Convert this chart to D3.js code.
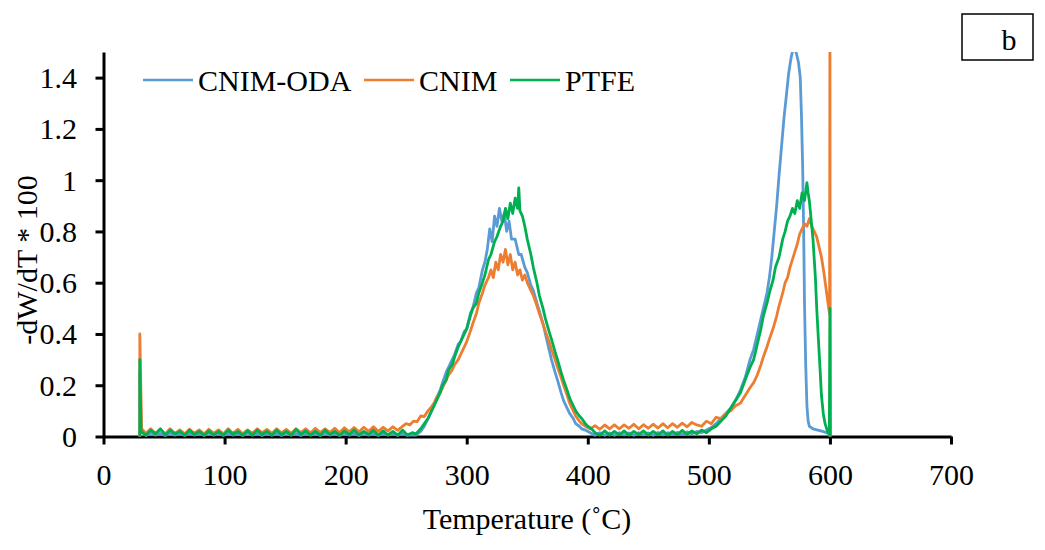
<!DOCTYPE html>
<html><head><meta charset="utf-8">
<script src="https://cdn.jsdelivr.net/npm/d3@7"></script>
</head><body style="margin:0">
<svg id="c" width="1045" height="550" font-family="Liberation Serif" style="font-family:'Liberation Serif'"></svg>
<script>
const seriesNames = ["CNIM-ODA", "CNIM", "PTFE"];
const seriesColors = ["#5B9BD5", "#ED7D31", "#00B050"];
const xTicks = [0, 100, 200, 300, 400, 500, 600, 700];
const yTicks = [0, 0.2, 0.4, 0.6, 0.8, 1, 1.2, 1.4];
const xTitle = "Temperature (˚C)";
const yTitle = "-dW/dT * 100";
const panelLabel = "b";

// [temperature °C, -dW/dT*100]
const cnimOda = [
[30,0],[30,0.25],[31,0.02],[35,0.004],[39,0.014],[43,0.005],[47,0.012],[51,0.004],[55,0.014],[59,0.005],[63,0.012],[67,0.004],[71,0.013],[75,0.005],[79,0.012],[83,0.004],[87,0.014],[91,0.005],[95,0.012],[99,0.004],[103,0.013],[107,0.005],[111,0.012],[115,0.004],[119,0.014],[123,0.005],[127,0.012],[131,0.004],[135,0.013],[139,0.005],[143,0.012],[147,0.004],[151,0.014],[155,0.005],[159,0.012],[163,0.004],[167,0.013],[171,0.005],[175,0.012],[179,0.004],[183,0.014],[187,0.005],[191,0.012],[195,0.004],[199,0.013],[203,0.005],[207,0.012],[211,0.004],[215,0.014],[219,0.005],[223,0.012],[227,0.004],[231,0.013],[235,0.005],[239,0.012],[243,0.004],[247,0.013],[251,0.004],[255,0.006],[258,0.005],
[262,0.02],[265,0.04],[268,0.07],[270,0.09],[273,0.12],[275,0.15],[278,0.18],[280,0.21],[283,0.25],[285,0.27],[288,0.30],[290,0.32],[293,0.36],[295,0.37],[298,0.41],[300,0.42],[303,0.48],[305,0.50],[308,0.56],[310,0.58],[313,0.65],[315,0.68],[317,0.73],[319,0.81],[321,0.76],[323,0.86],[325,0.82],[327,0.89],[329,0.84],[331,0.87],[333,0.80],[335,0.84],[337,0.77],[340,0.77],[343,0.71],[345,0.71],[348,0.66],[350,0.64],[353,0.59],[355,0.57],[358,0.52],[360,0.49],[363,0.44],[365,0.40],[368,0.34],[370,0.30],[373,0.25],[375,0.22],[378,0.17],[380,0.14],[383,0.11],[385,0.09],[388,0.07],[390,0.05],[393,0.04],[395,0.03],[398,0.025],[402,0.015],
[406,0.005],[410,0.015],[414,0.005],[418,0.014],[422,0.005],[426,0.015],[430,0.006],[434,0.014],[438,0.005],[442,0.015],[446,0.006],[450,0.014],[454,0.005],[458,0.016],[462,0.006],[466,0.015],[470,0.007],[474,0.016],[478,0.008],[482,0.018],[486,0.01],[490,0.02],[494,0.015],[498,0.025],
[502,0.035],[506,0.05],[510,0.07],[514,0.09],[518,0.11],[522,0.14],[526,0.18],[530,0.23],[534,0.30],[537,0.34],[540,0.40],[543,0.46],[545,0.50],[548,0.56],[550,0.62],[552,0.70],[554,0.80],[556,0.90],[558,1.02],[560,1.13],[562,1.24],[564,1.33],[566,1.42],[568,1.48],[570,1.52],[572,1.50],[574,1.46],[575.5,1.40],[576.5,1.25],[577.5,1.05],[578.3,0.80],[579,0.52],[580,0.28],[581,0.12],[582,0.06],[583,0.04],[586,0.03],[590,0.025],[594,0.02],[597,0.015],[599.5,0.01],[600,0]
];

const cnim = [
[30,0],[30,0.40],[30.8,0.20],[31.5,0.03],[35,0.012],[39,0.03],[43,0.012],[47,0.028],[51,0.01],[55,0.03],[59,0.012],[63,0.026],[67,0.01],[71,0.028],[75,0.012],[79,0.026],[83,0.01],[87,0.028],[91,0.012],[95,0.026],[99,0.01],[103,0.03],[107,0.012],[111,0.028],[115,0.01],[119,0.026],[123,0.012],[127,0.03],[131,0.014],[135,0.028],[139,0.012],[143,0.03],[147,0.014],[151,0.028],[155,0.012],[159,0.03],[163,0.015],[167,0.03],[171,0.014],[175,0.032],[179,0.015],[183,0.03],[187,0.016],[191,0.032],[195,0.015],[199,0.034],[203,0.018],[207,0.035],[211,0.018],[215,0.036],[219,0.02],[223,0.038],[227,0.02],[231,0.036],[235,0.022],[239,0.038],[243,0.024],[247,0.04],
[250,0.05],[253,0.045],[256,0.06],[259,0.058],[262,0.08],[265,0.078],[268,0.10],[270,0.11],[273,0.13],[275,0.15],[278,0.17],[280,0.19],[283,0.22],[285,0.24],[288,0.26],[290,0.28],[293,0.30],[295,0.32],[298,0.35],[300,0.37],[303,0.41],[305,0.44],[308,0.48],[310,0.52],[313,0.56],[315,0.59],[318,0.62],[320,0.65],[322,0.62],[324,0.68],[326,0.65],[328,0.71],[330,0.68],[332,0.73],[334,0.67],[336,0.71],[338,0.65],[340,0.68],[342,0.63],[344,0.65],[346,0.61],[348,0.63],[350,0.60],[353,0.57],[355,0.55],[358,0.51],[360,0.48],[363,0.44],[365,0.41],[368,0.37],[370,0.34],[373,0.30],[375,0.27],[378,0.23],[380,0.20],[383,0.16],[385,0.13],[388,0.10],[390,0.08],[393,0.06],[395,0.05],[398,0.04],[402,0.03],
[406,0.042],[410,0.028],[414,0.045],[418,0.03],[422,0.046],[426,0.03],[430,0.045],[434,0.032],[438,0.048],[442,0.03],[446,0.046],[450,0.032],[454,0.048],[458,0.033],[462,0.05],[466,0.034],[470,0.05],[474,0.036],[478,0.052],[482,0.038],[486,0.055],[490,0.045],[494,0.04],[498,0.06],
[502,0.05],[506,0.075],[510,0.07],[514,0.09],[518,0.10],[522,0.12],[526,0.13],[530,0.16],[534,0.19],[537,0.21],[540,0.24],[543,0.28],[545,0.31],[548,0.35],[550,0.38],[553,0.42],[556,0.47],[558,0.51],[561,0.56],[563,0.60],[565,0.62],[567,0.66],[569,0.69],[571,0.72],[573,0.75],[575,0.79],[577,0.81],[579,0.83],[581,0.82],[583,0.85],[585,0.82],[587,0.80],[589,0.78],[591,0.74],[593,0.70],[595,0.64],[597,0.57],[599,0.50],[599.7,0.48],[600,1.6],[600.3,0]
];

const ptfe = [
[30,0],[30,0.30],[31,0.02],[35,0.005],[39,0.025],[43,0.01],[47,0.03],[51,0.005],[55,0.025],[59,0.01],[63,0.02],[67,0.005],[71,0.025],[75,0.008],[79,0.02],[83,0.005],[87,0.022],[91,0.006],[95,0.02],[99,0.005],[103,0.025],[107,0.008],[111,0.02],[115,0.005],[119,0.022],[123,0.006],[127,0.025],[131,0.008],[135,0.02],[139,0.005],[143,0.025],[147,0.007],[151,0.02],[155,0.005],[159,0.028],[163,0.008],[167,0.022],[171,0.006],[175,0.02],[179,0.005],[183,0.025],[187,0.008],[191,0.02],[195,0.005],[199,0.022],[203,0.007],[207,0.025],[211,0.006],[215,0.02],[219,0.008],[223,0.025],[227,0.005],[231,0.022],[235,0.006],[239,0.02],[243,0.005],[247,0.025],[251,0.006],[255,0.015],[258,0.01],
[262,0.03],[265,0.05],[268,0.07],[270,0.09],[273,0.12],[275,0.14],[278,0.17],[280,0.20],[283,0.22],[285,0.26],[288,0.28],[290,0.31],[293,0.35],[295,0.37],[298,0.40],[300,0.42],[303,0.47],[305,0.50],[308,0.52],[310,0.56],[313,0.60],[315,0.63],[318,0.69],[320,0.71],[323,0.76],[325,0.78],[328,0.82],[330,0.84],[332,0.89],[334,0.85],[336,0.91],[338,0.87],[340,0.93],[342,0.89],[343,0.97],[344,0.88],[346,0.86],[348,0.82],[350,0.77],[353,0.71],[355,0.66],[358,0.60],[360,0.55],[363,0.50],[365,0.46],[368,0.41],[370,0.38],[373,0.33],[375,0.30],[378,0.25],[380,0.22],[383,0.18],[385,0.15],[388,0.12],[390,0.10],[393,0.08],[395,0.07],[398,0.05],[400,0.04],[403,0.03],[406,0.015],
[410,0.005],[414,0.022],[418,0.005],[422,0.02],[426,0.006],[430,0.022],[434,0.005],[438,0.02],[442,0.007],[446,0.022],[450,0.005],[454,0.02],[458,0.006],[462,0.022],[466,0.005],[470,0.02],[474,0.007],[478,0.024],[482,0.008],[486,0.022],[490,0.01],[494,0.025],[498,0.015],
[502,0.03],[506,0.04],[510,0.06],[514,0.08],[518,0.11],[522,0.14],[526,0.17],[530,0.22],[534,0.27],[537,0.30],[540,0.36],[543,0.42],[545,0.47],[548,0.52],[550,0.56],[553,0.61],[555,0.66],[558,0.70],[561,0.77],[563,0.80],[565,0.84],[567,0.86],[569,0.89],[571,0.87],[573,0.92],[575,0.89],[577,0.95],[579,0.92],[581,0.99],[582,0.95],[583,0.92],[584,0.87],[586,0.77],[588,0.62],[589,0.51],[590,0.42],[592,0.25],[593,0.16],[594.5,0.09],[596,0.05],[598,0.02],[599.5,0.01],[600,0.5],[600.3,0]
];

const allSeries = [cnimOda, cnim, ptfe];

const svg = d3.select("#c");
const x = d3.scaleLinear().domain([0, 700]).range([103.5, 951]);
const y = d3.scaleLinear().domain([0, 1.5]).range([436.5, 52]);

svg.append("defs").append("clipPath").attr("id", "plotclip")
  .append("rect").attr("x", 100).attr("y", y(1.5)).attr("width", 860).attr("height", y(0) - y(1.5) + 6);

function styleText(sel) {
  sel.style("font-family", "'Liberation Serif'").style("font-size", "30px").attr("fill", "#000");
}

// axes
const yAxis = d3.axisLeft(y).tickValues(yTicks).tickSize(8).tickSizeOuter(0)
  .tickFormat(d => d3.format("~g")(d));
const gy = svg.append("g").attr("transform", `translate(${x(0)},0)`).call(yAxis);
gy.attr("font-family", "Liberation Serif").attr("font-size", 30);
gy.select(".domain").attr("stroke", "#000").attr("stroke-width", 3);
gy.selectAll(".tick line").attr("stroke", "#000").attr("stroke-width", 3);
gy.selectAll(".tick text").attr("x", -26.5).attr("dy", null).attr("y", 10).call(styleText);

const xAxis = d3.axisBottom(x).tickValues(xTicks).tickSize(8).tickSizeOuter(0);
const gx = svg.append("g").attr("transform", `translate(0,${y(0)})`).call(xAxis);
gx.attr("font-family", "Liberation Serif").attr("font-size", 30);
gx.select(".domain").attr("stroke", "#000").attr("stroke-width", 3);
gx.selectAll(".tick line").attr("stroke", "#000").attr("stroke-width", 3);
gx.selectAll(".tick text").attr("y", 48.5).attr("dy", null).call(styleText);

// lines
const line = d3.line().x(d => x(d[0])).y(d => y(d[1]));
const plot = svg.append("g").attr("clip-path", "url(#plotclip)");
allSeries.forEach((s, i) => {
  plot.append("path").datum(s).attr("d", line).attr("fill", "none")
    .attr("stroke", seriesColors[i]).attr("stroke-width", 2.8)
    .attr("stroke-linejoin", "round");
});

// legend
const legX = [143, 364, 510];
seriesNames.forEach((n, i) => {
  svg.append("line").attr("x1", legX[i]).attr("x2", legX[i] + 50).attr("y1", 80).attr("y2", 80)
    .attr("stroke", seriesColors[i]).attr("stroke-width", 2.5);
  svg.append("text").attr("x", legX[i] + 55).attr("y", 91).call(styleText).text(n);
});

// titles
svg.append("text").attr("x", 527).attr("y", 529).attr("text-anchor", "middle").call(styleText).text(xTitle);
svg.append("text").attr("transform", "translate(37,260) rotate(-90)").attr("text-anchor", "middle")
  .call(styleText).text(yTitle);

// panel label box
svg.append("rect").attr("x", 962).attr("y", 14).attr("width", 71).attr("height", 46)
  .attr("fill", "#fff").attr("stroke", "#000").attr("stroke-width", 1.5);
svg.append("text").attr("x", 1009).attr("y", 50).attr("text-anchor", "middle").call(styleText).text(panelLabel);
</script>
</body></html>
